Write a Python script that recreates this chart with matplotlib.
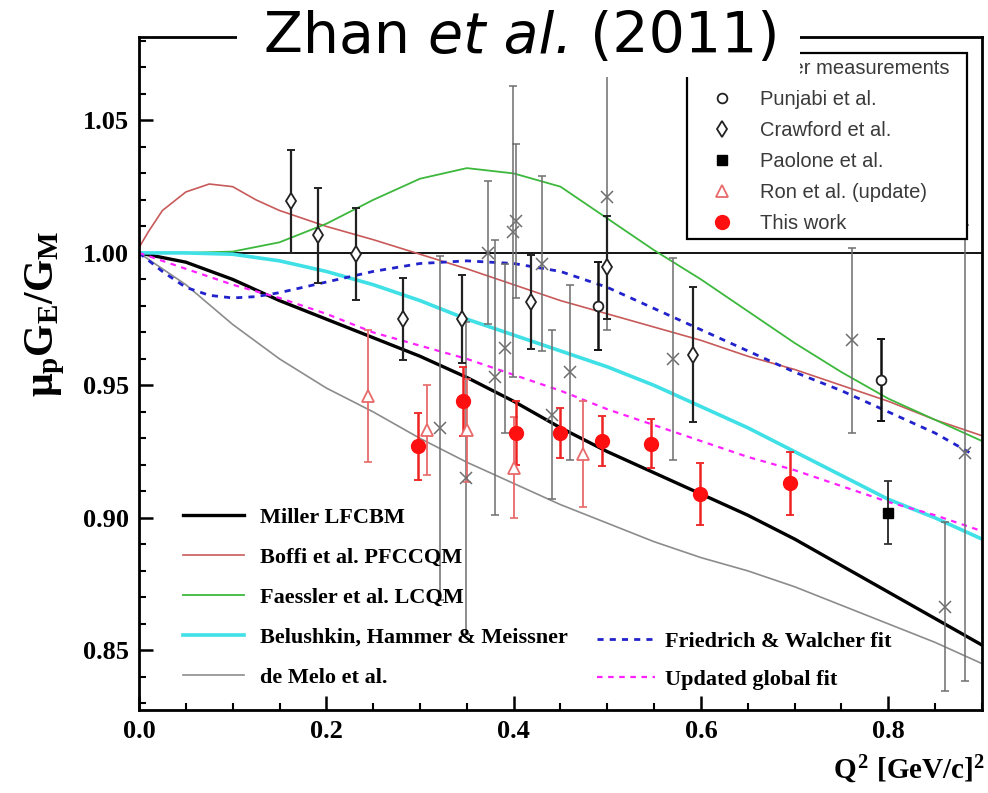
import numpy as np
import matplotlib
matplotlib.use('Agg')
import matplotlib.pyplot as plt
from matplotlib.patches import Rectangle
from matplotlib.ticker import MultipleLocator

plt.rcParams['font.family'] = ['Liberation Serif', 'DejaVu Serif']
plt.rcParams['font.weight'] = 'bold'
plt.rcParams['mathtext.fontset'] = 'custom'
plt.rcParams['mathtext.rm'] = 'Liberation Serif:bold'
plt.rcParams['mathtext.it'] = 'Liberation Serif:bold'
plt.rcParams['mathtext.bf'] = 'Liberation Serif:bold'

# ---- theory curves (Q^2, mu_p GE/GM) ----
miller_q = [0.0, 0.05, 0.1, 0.15, 0.2, 0.25, 0.3, 0.35, 0.4, 0.45, 0.5, 0.55, 0.6, 0.65, 0.7, 0.75, 0.8, 0.85, 0.9]
miller_r = [1.0, 0.9965, 0.990, 0.982, 0.975, 0.968, 0.961, 0.953, 0.944, 0.934, 0.925, 0.917, 0.909, 0.901, 0.892, 0.882, 0.872, 0.862, 0.852]

boffi_q = [0.0, 0.01, 0.025, 0.05, 0.075, 0.1, 0.125, 0.15, 0.2, 0.25, 0.3, 0.35, 0.4, 0.45, 0.5, 0.55, 0.6, 0.65, 0.7, 0.75, 0.8, 0.85, 0.9]
boffi_r = [1.002, 1.008, 1.016, 1.023, 1.026, 1.025, 1.020, 1.016, 1.010, 1.005, 0.9995, 0.994, 0.988, 0.982, 0.977, 0.972, 0.967, 0.961, 0.956, 0.950, 0.944, 0.937, 0.931]

faessler_q = [0.0, 0.05, 0.1, 0.15, 0.2, 0.25, 0.3, 0.35, 0.4, 0.45, 0.5, 0.55, 0.6, 0.65, 0.7, 0.75, 0.8, 0.85, 0.9]
faessler_r = [1.0, 1.0, 1.0005, 1.004, 1.011, 1.020, 1.028, 1.032, 1.030, 1.025, 1.013, 1.001, 0.990, 0.978, 0.966, 0.955, 0.945, 0.937, 0.929]

bhm_q = [0.0, 0.05, 0.1, 0.15, 0.2, 0.25, 0.3, 0.35, 0.4, 0.45, 0.5, 0.55, 0.6, 0.65, 0.7, 0.75, 0.8, 0.85, 0.9]
bhm_r = [1.0, 1.0, 0.9995, 0.997, 0.993, 0.988, 0.982, 0.975, 0.969, 0.963, 0.957, 0.950, 0.942, 0.934, 0.925, 0.916, 0.907, 0.900, 0.892]

demelo_q = [0.0, 0.05, 0.1, 0.15, 0.2, 0.25, 0.3, 0.35, 0.4, 0.45, 0.5, 0.55, 0.6, 0.65, 0.7, 0.75, 0.8, 0.85, 0.9]
demelo_r = [1.0, 0.988, 0.973, 0.960, 0.949, 0.940, 0.930, 0.921, 0.913, 0.905, 0.898, 0.891, 0.885, 0.880, 0.874, 0.867, 0.860, 0.853, 0.845]

fw_q = [0.0, 0.025, 0.05, 0.075, 0.1, 0.125, 0.15, 0.2, 0.25, 0.3, 0.35, 0.4, 0.45, 0.5, 0.55, 0.6, 0.65, 0.7, 0.75, 0.8, 0.85, 0.89]
fw_r = [1.0, 0.993, 0.987, 0.984, 0.983, 0.9835, 0.985, 0.989, 0.993, 0.996, 0.997, 0.996, 0.993, 0.987, 0.979, 0.971, 0.963, 0.955, 0.948, 0.940, 0.932, 0.924]

glob_q = [0.0, 0.05, 0.1, 0.15, 0.2, 0.25, 0.3, 0.35, 0.4, 0.45, 0.5, 0.55, 0.6, 0.65, 0.7, 0.75, 0.8, 0.85, 0.9]
glob_r = [1.0, 0.994, 0.988, 0.983, 0.977, 0.970, 0.965, 0.960, 0.954, 0.948, 0.941, 0.935, 0.929, 0.923, 0.918, 0.912, 0.906, 0.901, 0.895]

# ---- data points ----
other_q = [0.321, 0.349, 0.373, 0.380, 0.391, 0.399, 0.402, 0.430, 0.441, 0.460, 0.500, 0.570, 0.761, 0.861, 0.882]
other_r = [0.934, 0.915, 1.000, 0.953, 0.964, 1.008, 1.012, 0.996, 0.939, 0.955, 1.021, 0.960, 0.967, 0.8665, 0.9245]
other_e = [0.065, 0.059, 0.027, 0.052, 0.032, 0.055, 0.029, 0.033, 0.032, 0.033, 0.050, 0.038, 0.035, 0.032, 0.086]

punjabi_q = [0.490, 0.792]
punjabi_r = [0.980, 0.952]
punjabi_e = [0.0166, 0.0156]

crawford_q = [0.162, 0.191, 0.232, 0.282, 0.345, 0.419, 0.500, 0.591]
crawford_r = [1.0195, 1.0066, 0.9996, 0.975, 0.975, 0.9815, 0.9945, 0.9615]
crawford_e = [0.0195, 0.018, 0.0174, 0.0155, 0.0165, 0.0177, 0.0196, 0.0255]

paolone_q = [0.800]
paolone_r = [0.902]
paolone_e = [0.0118]

ron_q = [0.245, 0.308, 0.350, 0.400, 0.474]
ron_r = [0.946, 0.933, 0.933, 0.919, 0.924]
ron_e = [0.025, 0.017, 0.0195, 0.019, 0.020]

zhan_q = [0.298, 0.346, 0.402, 0.449, 0.494, 0.547, 0.599, 0.695]
zhan_r = [0.927, 0.944, 0.932, 0.932, 0.929, 0.928, 0.909, 0.913]
zhan_e = [0.0127, 0.013, 0.012, 0.0093, 0.0096, 0.0092, 0.0116, 0.012]

fig = plt.figure(figsize=(9.88, 7.93), dpi=100)
ax = fig.add_axes([0.1407, 0.1047, 0.8532, 0.8487])

ax.axhline(1.0, color='black', lw=1.3, zorder=1)

l_miller, = ax.plot(miller_q, miller_r, color='black', lw=2.4, label='Miller LFCBM', zorder=2)
l_boffi, = ax.plot(boffi_q, boffi_r, color='#c85a5a', lw=1.2, label='Boffi et al. PFCCQM', zorder=2)
l_faes, = ax.plot(faessler_q, faessler_r, color='#3cb83c', lw=1.3, label='Faessler et al. LCQM', zorder=2)
l_bhm, = ax.plot(bhm_q, bhm_r, color='#3fe0e6', lw=2.6, label='Belushkin, Hammer & Meissner', zorder=2)
l_melo, = ax.plot(demelo_q, demelo_r, color='#8c8c8c', lw=1.2, label='de Melo et al.', zorder=2)
l_fw, = ax.plot(fw_q, fw_r, color='#2222cc', lw=2.0, ls=(0, (2.2, 2.2)), label='Friedrich & Walcher fit', zorder=2)
l_glob, = ax.plot(glob_q, glob_r, color='#ff22ff', lw=1.6, ls=(0, (2.5, 2.5)), label='Updated global fit', zorder=2)

# error bars
ax.errorbar(other_q, other_r, yerr=other_e, fmt='none', ecolor='#6e6e6e', elinewidth=1.1, capsize=3, capthick=1.1, zorder=3)
ax.errorbar(crawford_q, crawford_r, yerr=crawford_e, fmt='none', ecolor='#222222', elinewidth=1.6, capsize=3, capthick=1.4, zorder=3)
ax.errorbar(punjabi_q, punjabi_r, yerr=punjabi_e, fmt='none', ecolor='#111111', elinewidth=1.8, capsize=3, capthick=1.4, zorder=3)
ax.errorbar(paolone_q, paolone_r, yerr=paolone_e, fmt='none', ecolor='#333333', elinewidth=1.4, capsize=3, capthick=1.3, zorder=3)
ax.errorbar(ron_q, ron_r, yerr=ron_e, fmt='none', ecolor='#e86a6a', elinewidth=1.3, capsize=3, capthick=1.2, zorder=3)
ax.errorbar(zhan_q, zhan_r, yerr=zhan_e, fmt='none', ecolor='#ee2222', elinewidth=1.8, capsize=3, capthick=1.3, zorder=3)

# markers
m_other, = ax.plot(other_q, other_r, 'x', color='#6e6e6e', ms=8, mew=1.1, label='Other measurements', zorder=4)
m_punj, = ax.plot(punjabi_q, punjabi_r, 'o', mfc='white', mec='#222222', ms=7, mew=1.3, label='Punjabi et al.', zorder=4)
m_craw, = ax.plot(crawford_q, crawford_r, 'd', mfc='white', mec='#222222', ms=8, mew=1.3, label='Crawford et al.', zorder=4)
m_paol, = ax.plot(paolone_q, paolone_r, 's', color='black', ms=7, label='Paolone et al.', zorder=4)
m_ron, = ax.plot(ron_q, ron_r, '^', mfc='white', mec='#e86a6a', ms=8, mew=1.3, label='Ron et al. (update)', zorder=4)
m_zhan, = ax.plot(zhan_q, zhan_r, 'o', color='#ff1010', ms=10, label='This work', zorder=5)

ax.set_xlim(0, 0.9)
ax.set_ylim(0.8275, 1.0815)
ax.xaxis.set_major_locator(MultipleLocator(0.2))
ax.xaxis.set_minor_locator(MultipleLocator(0.05))
ax.yaxis.set_major_locator(MultipleLocator(0.05))
ax.yaxis.set_minor_locator(MultipleLocator(0.01))
ax.xaxis.set_major_formatter(plt.FormatStrFormatter('%.1f'))
ax.yaxis.set_major_formatter(plt.FormatStrFormatter('%.2f'))
ax.tick_params(which='major', direction='in', length=10, width=1.8, labelsize=19, pad=7)
ax.tick_params(which='minor', direction='in', length=5, width=1.5)
for s in ax.spines.values():
    s.set_linewidth(2.0)

ax.set_ylabel(r'$\mu_{p}G_{E}/G_{M}$', fontsize=30)
ax.yaxis.set_label_coords(-0.085, 0.588)
ax.set_xlabel(r'$Q^{2}\ [GeV/c]^{2}$', fontsize=21, ha='right', va='top')
ax.xaxis.set_label_coords(1.004, -0.065)

leg1 = ax.legend(handles=[l_miller, l_boffi, l_faes, l_bhm, l_melo], loc='upper left',
                 bbox_to_anchor=(0.052, 0.3016), frameon=False, borderpad=0, borderaxespad=0,
                 handlelength=2.75, handletextpad=0.72, labelspacing=0.875,
                 prop={'family': 'Liberation Serif', 'weight': 'bold', 'size': 16})
ax.add_artist(leg1)
leg2 = ax.legend(handles=[l_fw, l_glob], loc='upper left',
                 bbox_to_anchor=(0.543, 0.117), frameon=False, borderpad=0, borderaxespad=0,
                 handlelength=2.6, handletextpad=0.45, labelspacing=0.79,
                 prop={'family': 'Liberation Serif', 'weight': 'bold', 'size': 16})
ax.add_artist(leg2)
leg3 = ax.legend(handles=[m_other, m_punj, m_craw, m_paol, m_ron, m_zhan], loc='upper left',
                 bbox_to_anchor=(0.650, 0.0, 0.332, 0.976), mode='expand',
                 borderaxespad=0, borderpad=0.3, handlelength=2.9, handletextpad=0.45,
                 labelspacing=0.59, fancybox=False, framealpha=1, edgecolor='black',
                 prop={'family': 'Liberation Sans', 'weight': 'normal', 'size': 14.5})
leg3.get_frame().set_linewidth(1.6)
for t in leg3.get_texts():
    t.set_color('#3a3a3a')

# title over the top frame
fig.add_artist(Rectangle((0.240, 0.903), 0.570, 0.097, transform=fig.transFigure,
                         facecolor='white', edgecolor='none', zorder=9))
title_parts = [('Zhan ', 'normal'), ('et al.', 'italic'), (' (2011)', 'normal')]
renderer = fig.canvas.get_renderer()
pieces = []
for txt, style in title_parts:
    t = fig.text(0, 0.953, txt, ha='left', va='center', fontsize=41, family='DejaVu Sans',
                 weight='normal', style=style, zorder=10)
    pieces.append(t)
widths = [p.get_window_extent(renderer).width / fig.bbox.width for p in pieces]
x = 0.528 - sum(widths) / 2
for p, w in zip(pieces, widths):
    p.set_x(x)
    x += w

fig.savefig('out.png', dpi=100)
